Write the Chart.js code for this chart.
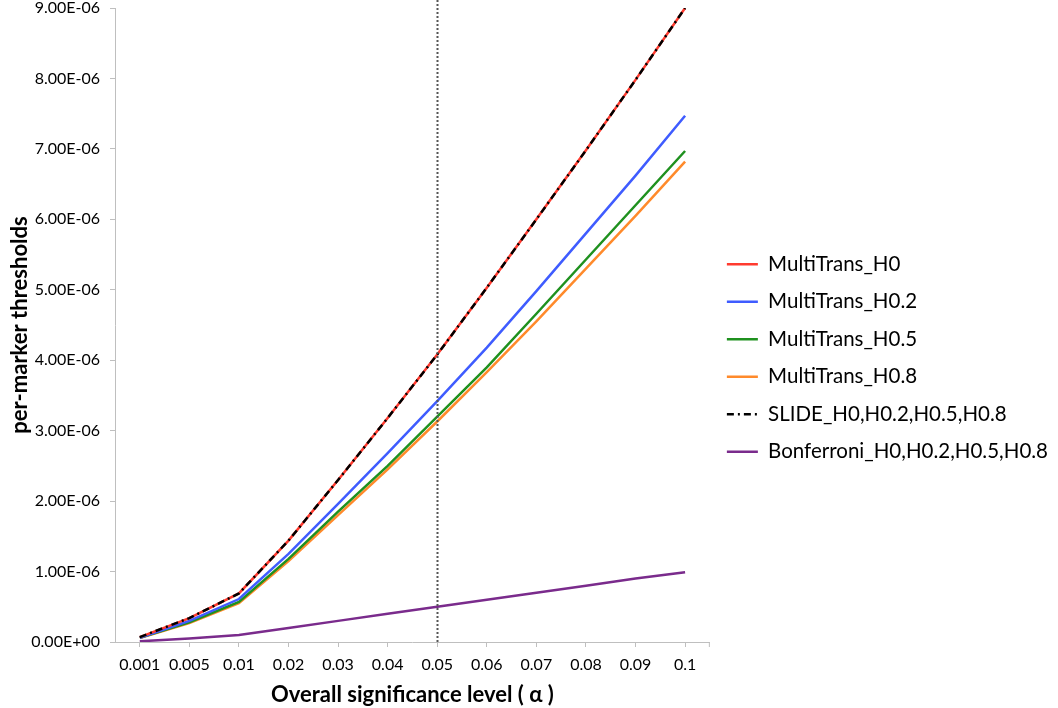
<!DOCTYPE html>
<html>
<head>
<meta charset="utf-8">
<script src="https://cdn.jsdelivr.net/npm/chart.js@4"></script>
<style>
  html, body { margin: 0; padding: 0; background: #fff; }
  #wrap { width: 1058px; height: 708px; position: relative; }
</style>
</head>
<body>
<div id="wrap"><canvas id="thresholdChart"></canvas></div>
<script>
// overall significance levels (x categories)
const alphas = ['0.001', '0.005', '0.01', '0.02', '0.03', '0.04', '0.05', '0.06', '0.07', '0.08', '0.09', '0.1'];

// per-marker thresholds, in units of 1e-6
const multiH0  = [0.07, 0.34, 0.69, 1.44, 2.30, 3.18, 4.08, 5.03, 6.00, 6.98, 7.98, 9.00];
const multiH02 = [0.06, 0.30, 0.61, 1.25, 1.96, 2.68, 3.42, 4.18, 4.98, 5.80, 6.62, 7.47];
const multiH05 = [0.06, 0.28, 0.57, 1.18, 1.85, 2.50, 3.20, 3.90, 4.66, 5.43, 6.20, 6.97];
const multiH08 = [0.055, 0.27, 0.55, 1.15, 1.80, 2.45, 3.13, 3.83, 4.55, 5.30, 6.05, 6.82];
const slide    = [0.07, 0.34, 0.69, 1.44, 2.30, 3.18, 4.08, 5.03, 6.00, 6.98, 7.98, 9.00];
const bonf     = [0.01, 0.05, 0.10, 0.20, 0.30, 0.40, 0.50, 0.60, 0.70, 0.80, 0.90, 0.99];

const yTicks = [0, 1, 2, 3, 4, 5, 6, 7, 8, 9];
const markAlpha = '0.05';

const FONT = 'Lato, "Open Sans", sans-serif';

// 3e-6 -> "3.00E-06"
function sciLabel(v) {
  const [m, e] = (v * 1e-6).toExponential(2).split('e');
  const n = parseInt(e, 10);
  return m + 'E' + (n < 0 ? '-' : '+') + String(Math.abs(n)).padStart(2, '0');
}

function line(label, data, color, extra) {
  return Object.assign({
    label: label,
    data: data,
    borderColor: color,
    backgroundColor: color,
    borderWidth: 2.5,
    pointRadius: 0,
    tension: 0,
    fill: false,
    order: 1
  }, extra || {});
}

// dotted reference line at alpha = 0.05, plus the closing tick at the axis end
const refLine = {
  id: 'refLine',
  afterDatasetsDraw(chart) {
    const { ctx, chartArea, scales } = chart;
    const x = Math.round(scales.x.getPixelForValue(alphas.indexOf(markAlpha))) + 0.5;
    ctx.save();
    ctx.strokeStyle = '#555';
    ctx.lineWidth = 2;
    ctx.setLineDash([2, 2]);
    ctx.beginPath();
    ctx.moveTo(x, 0);
    ctx.lineTo(x, chartArea.bottom);
    ctx.stroke();
    ctx.setLineDash([]);
    ctx.strokeStyle = '#bfbfbf';
    ctx.lineWidth = 1;
    ctx.beginPath();
    ctx.moveTo(chartArea.right - 0.5, chartArea.bottom);
    ctx.lineTo(chartArea.right - 0.5, chartArea.bottom + 5);
    ctx.stroke();
    ctx.restore();
  }
};

const chart = new Chart(document.getElementById('thresholdChart'), {
  type: 'line',
  data: {
    labels: alphas,
    datasets: [
      line('MultiTrans_H0', multiH0, '#ff3b2f'),
      line('MultiTrans_H0.2', multiH02, '#3f5cff'),
      line('MultiTrans_H0.5', multiH05, '#1f911f'),
      line('MultiTrans_H0.8', multiH08, '#ff8a2b'),
      line('SLIDE_H0,H0.2,H0.5,H0.8', slide, '#000000', { borderDash: [7, 4, 2, 4], order: 0 }),
      line('Bonferroni_H0,H0.2,H0.5,H0.8', bonf, '#7a2b8c')
    ]
  },
  options: {
    responsive: true,
    maintainAspectRatio: false,
    animation: false,
    layout: { padding: { top: 8, right: 0, bottom: 0, left: 0 } },
    plugins: {
      tooltip: { enabled: false },
      legend: {
        position: 'right',
        align: 'center',
        maxWidth: 400,
        labels: {
          usePointStyle: true,
          pointStyle: 'line',
          pointStyleWidth: 31,
          boxHeight: 20.5,
          padding: 17,
          color: '#000',
          font: { family: FONT, size: 20.5 },
          sort: (a, b) => a.datasetIndex - b.datasetIndex,
          generateLabels(c) {
            const items = Chart.defaults.plugins.legend.labels.generateLabels(c);
            items.forEach(it => {
              it.lineDash = c.data.datasets[it.datasetIndex].borderDash || [];
            });
            return items;
          }
        }
      }
    },
    scales: {
      x: {
        offset: true,
        grid: { offset: false, drawOnChartArea: false, color: '#bfbfbf', tickLength: 5 },
        border: { color: '#bfbfbf', width: 1 },
        ticks: { color: '#000', padding: 8, font: { family: FONT, size: 16 }, maxRotation: 0 },
        title: {
          display: true,
          text: 'Overall significance level ( \u03B1 )',
          color: '#000',
          font: { family: FONT, size: 22, weight: 'bold' },
          padding: { top: 0, bottom: 0 }
        },
        afterFit(s) { s.height = 66; }
      },
      y: {
        min: 0,
        max: 9,
        afterBuildTicks(s) { s.ticks = yTicks.map(v => ({ value: v })); },
        grid: { drawOnChartArea: false, color: '#bfbfbf', tickLength: 5 },
        border: { color: '#bfbfbf', width: 1 },
        ticks: {
          color: '#000',
          padding: 10,
          font: { family: FONT, size: 16 },
          callback: v => sciLabel(v)
        },
        title: {
          display: true,
          text: 'per-marker thresholds',
          color: '#000',
          font: { family: FONT, size: 22, weight: 'bold' },
          padding: { top: 7, bottom: 0 }
        },
        afterFit(s) {
          s.width = 115;
          s.paddingTop = 0;
          s.paddingBottom = 0;
        }
      }
    }
  },
  plugins: [refLine]
});
</script>
</body>
</html>
